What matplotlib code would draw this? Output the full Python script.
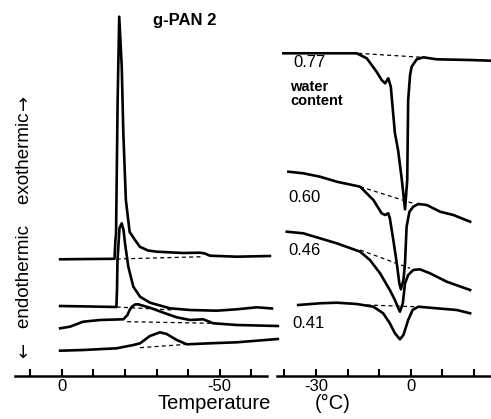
import matplotlib
matplotlib.use("Agg")
import matplotlib.pyplot as plt

plt.rcParams['font.family'] = ['Liberation Sans', 'DejaVu Sans']

# ---------------- data: cooling runs (left panel) ----------------
# temperature (degC) and heat-flow signal (arbitrary units, offset per curve)
cool_077_t = [0.5, -9.0, -16.7, -17.0, -17.2, -17.7, -18.2, -19.0, -19.5, -20.3, -21.5,
              -23.2, -24.7, -27.3, -30.1, -38.4, -43.8, -45.3, -46.9, -55.4, -65.9]
cool_077_q = [116.7, 117, 117.2, 136, 143, 276, 359.3, 309.3, 243, 176, 144,
              136, 129.3, 125.5, 124.3, 123, 123.3, 122.5, 120.3, 119.3, 120]
cool_077_base_t = [-17.4, -44.7]
cool_077_base_q = [117, 119.3]

cool_060_t = [0.5, -9.0, -17.3, -17.5, -17.66, -18.29, -18.99, -19.56, -20.03, -21.08, -22.66,
              -24.78, -27.94, -34.27, -40.6, -49.05, -55.4, -61.7, -66.55]
cool_060_q = [70, 69.5, 69, 86, 116, 148, 152.7, 146, 132.7, 109.3, 89.3,
              79.3, 73.3, 67.7, 66, 65.3, 66.7, 68.7, 67.5]
cool_060_base_t = [-17.4, -35.3]
cool_060_base_q = [69, 66]

cool_046_t = [0.5, -2.6, -6.8, -12.1, -19.5, -20.8, -21.5, -22.2, -23.2, -24.2, -27.9,
              -32.2, -36.4, -40.6, -44.8, -48.0, -55.4, -68.4]
cool_046_q = [47.7, 49.3, 54.3, 56, 56.7, 61, 66, 69.3, 71.5, 71.7, 68.3,
              63.3, 58.7, 56, 56.7, 52.7, 51, 50]
cool_046_base_t = [-20.7, -48.0]
cool_046_base_q = [54.3, 52.7]

cool_041_t = [0.5, -6.8, -17.4, -22.7, -24.8, -27.9, -31.1, -33.2, -36.4, -39.6, -46.9, -55.4, -68.4]
cool_041_q = [25.3, 26, 27.7, 31, 32.7, 40, 43.7, 42, 36, 31.7, 32.7, 33.7, 37]
cool_041_base_t = [-24.8, -39.6]
cool_041_base_q = [28.3, 31.7]

# ---------------- data: heating runs (right panel) ----------------
heat_077_t = [-40.3, -17.1, -13.9, -10.8, -9.2, -8.1, -7.1, -6.3, -5.0, -4.0, -2.8, -1.8,
              -1.1, -0.8, -0.2, 0.3, 1.9, 4.0, 8.2, 18.8, 25.4]
heat_077_q = [322.7, 322.7, 317.7, 304.3, 296, 292.7, 297.7, 289.3, 243, 226, 196, 166.7,
              196, 276, 301, 309.3, 316.7, 318.7, 316.7, 316, 315.3]
heat_077_base_t = [-16.6, 3.5]
heat_077_base_q = [322.7, 318.7]

heat_060_t = [-38.7, -34.0, -28.7, -23.4, -16.0, -11.8, -9.2, -8.1, -7.1, -6.6, -5.5, -4.4,
              -3.6, -3.1, -2.3, -1.8, -1.3, -0.4, 0.8, 2.4, 5.1, 9.3, 13.5, 18.8]
heat_060_q = [204.3, 202.7, 199.3, 194.3, 189.3, 176, 162.7, 161, 162.7, 157.7, 136, 112.7,
              92.7, 86.7, 96, 112.7, 149.3, 164.3, 169.3, 172, 171, 164.3, 161, 154.3]
heat_060_base_t = [-16.0, 1.4]
heat_060_base_q = [189.3, 172]

heat_046_t = [-39.2, -34.0, -28.7, -23.4, -16.0, -12.9, -9.7, -6.6, -5.0, -3.9, -3.4, -2.5,
              -1.8, -0.8, 0.8, 2.9, 6.1, 11.4, 18.8]
heat_046_q = [144.3, 142.7, 137.7, 132.7, 124.3, 116, 102.7, 86, 76, 67.7, 64.3, 72.7,
              92.7, 101, 106, 106.7, 102.7, 94.3, 86]
heat_046_base_t = [-16.0, -0.2]
heat_046_base_q = [126, 107.7]

heat_041_t = [-35.6, -28.7, -23.4, -17.1, -11.8, -8.7, -6.6, -5.0, -3.4, -2.3, -0.8, 0.6,
              2.4, 8.2, 14.6, 18.8]
heat_041_q = [71, 72.7, 73.3, 72, 69.3, 62.7, 52.7, 42.7, 36.7, 41, 56, 66,
              69.3, 67.7, 66, 62.7]
heat_041_base_t = [-13.9, 1.4]
heat_041_base_q = [71, 69.3]

water_labels = ["0.77", "0.60", "0.46", "0.41"]
water_label_t = [-37.2, -38.8, -38.8, -37.6]
water_label_q = [313.5, 179, 126, 53]

left_ticks = [10, 0, -10, -20, -30, -40, -50, -60]
left_ticklabels = ["", "0", "", "", "", "", "-50", ""]
right_ticks = [-40, -30, -20, -10, 0, 10, 20]
right_ticklabels = ["", "-30", "", "", "0", "", ""]

# ---------------- figure ----------------
W, H = 491, 419
fig = plt.figure(figsize=(W / 100, H / 100), dpi=100)

def frac(px_left, px_right, row_bottom, row_top):
    return [px_left / W, (H - row_bottom) / H, (px_right - px_left) / W, (row_bottom - row_top) / H]

axL = fig.add_axes(frac(15, 280, 376, 10))
axR = fig.add_axes(frac(277, 491, 376, 10))

lw = 1.9
dash_kw = dict(color='black', lw=0.9, ls=(0, (3.2, 2.6)))

for t, q, bt, bq in [
    (cool_077_t, cool_077_q, cool_077_base_t, cool_077_base_q),
    (cool_060_t, cool_060_q, cool_060_base_t, cool_060_base_q),
    (cool_046_t, cool_046_q, cool_046_base_t, cool_046_base_q),
    (cool_041_t, cool_041_q, cool_041_base_t, cool_041_base_q),
]:
    axL.plot(t, q, color='black', lw=lw, solid_joinstyle='round', clip_on=False)
    axL.plot(bt, bq, **dash_kw)

for t, q, bt, bq in [
    (heat_077_t, heat_077_q, heat_077_base_t, heat_077_base_q),
    (heat_060_t, heat_060_q, heat_060_base_t, heat_060_base_q),
    (heat_046_t, heat_046_q, heat_046_base_t, heat_046_base_q),
    (heat_041_t, heat_041_q, heat_041_base_t, heat_041_base_q),
]:
    axR.plot(t, q, color='black', lw=lw, solid_joinstyle='round', clip_on=False)
    axR.plot(bt, bq, **dash_kw)

for lab, lt, lq in zip(water_labels, water_label_t, water_label_q):
    axR.text(lt, lq, lab, fontsize=12, ha='left', va='center')
axR.text(-38.2, 282, "water\ncontent", fontsize=10.5, fontweight='bold',
         ha='left', va='center', linespacing=1.0)

axL.set_xlim(14.78, -69.08)
axR.set_xlim(-42.31, 25.41)
for ax in (axL, axR):
    ax.set_ylim(0, 366)
    ax.patch.set_alpha(0)
    for s in ('top', 'right', 'left'):
        ax.spines[s].set_visible(False)
    ax.spines['bottom'].set_linewidth(1.8)
    ax.set_yticks([])
    ax.tick_params(axis='x', direction='in', length=5, width=1.5, pad=2, labelsize=12)

axL.spines['bottom'].set_bounds(14.78, -64.97)
axL.set_xticks(left_ticks)
axL.set_xticklabels(left_ticklabels)
axR.set_xticks(right_ticks)
axR.set_xticklabels(right_ticklabels)

fig.text(158 / W, 1 - 409 / H, "Temperature", fontsize=14.5, ha='left', va='baseline')
fig.text(315 / W, 1 - 409 / H, "(°C)", fontsize=14.5, ha='left', va='baseline')
fig.text(153 / W, 1 - 20 / H, "g-PAN 2", fontsize=12, fontweight='bold', ha='left', va='center')
fig.text(25 / W, 1 - 220 / H, "endothermic    exothermic", fontsize=13.5,
         rotation=90, ha='center', va='center')
fig.text(24 / W, 1 - 350 / H, "←", fontsize=13, family='DejaVu Sans',
         rotation=90, ha='center', va='center')
fig.text(24 / W, 1 - 102 / H, "→", fontsize=13, family='DejaVu Sans',
         rotation=90, ha='center', va='center')

fig.savefig("out.png", dpi=100)
